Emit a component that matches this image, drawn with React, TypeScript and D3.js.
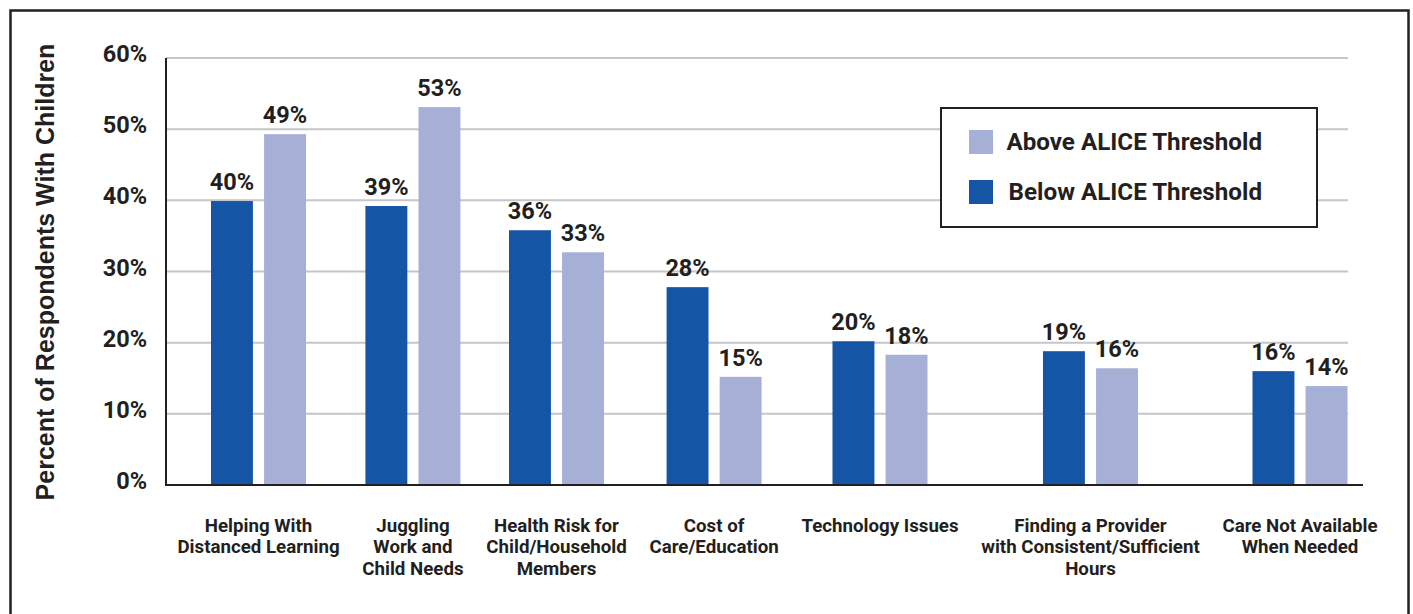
import React, { useMemo } from "react";
import * as d3 from "d3";

const categories = [
  "Helping With\nDistanced Learning",
  "Juggling\nWork and\nChild Needs",
  "Health Risk for\nChild/Household\nMembers",
  "Cost of\nCare/Education",
  "Technology Issues",
  "Finding a Provider\nwith Consistent/Sufficient\nHours",
  "Care Not Available\nWhen Needed",
];
const belowValues = [39.9, 39.2, 35.8, 27.8, 20.2, 18.8, 16.0];
const aboveValues = [49.3, 53.1, 32.7, 15.2, 18.3, 16.4, 13.9];
const seriesNames = ["Below ALICE Threshold", "Above ALICE Threshold"];
const yTicks = [0, 10, 20, 30, 40, 50, 60];
const yTitle = "Percent of Respondents With Children";

const DARK = "#1555A5";
const LIGHT = "#A6AFD6";
const INK = "#231F20";
const GRID = "#C6C6CA";
const FONT = "Roboto, 'Noto Sans', sans-serif";
const TITLE_FONT = "'Liberation Sans', Arial, sans-serif";
const CAT_FONT_SIZE = 18.7;

export default function App() {
  const W = 1413;
  const H = 614;
  const plotLeft = 166;
  const plotRight = 1348;
  const y = d3.scaleLinear().domain([0, 60]).range([485, 58]);

  // Category centres spaced by the width of their labels, so long labels do not collide.
  const centers = useMemo(() => {
    const ctx = document.createElement("canvas").getContext("2d")!;
    ctx.font = `700 ${CAT_FONT_SIZE}px Roboto`;
    const widths = categories.map((c) =>
      Math.max(95, ...c.split("\n").map((l) => ctx.measureText(l).width))
    );
    const cum: number[] = [0];
    for (let i = 1; i < widths.length; i++) {
      cum.push(cum[i - 1] + (widths[i - 1] + widths[i]) / 2 + 23);
    }
    const x = d3.scaleLinear().domain([0, cum[cum.length - 1]]).range([258.5, 1300]);
    return d3.scaleOrdinal<string, number>().domain(categories).range(cum.map((v) => x(v)));
  }, []);

  const x1 = d3
    .scaleBand<string>()
    .domain(seriesNames)
    .range([-47.5, 47.5])
    .paddingInner(0.21)
    .paddingOuter(0);
  const colors = d3.scaleOrdinal<string, string>().domain(seriesNames).range([DARK, LIGHT]);
  const seriesValues = [belowValues, aboveValues];

  return (
    <svg
      width={W}
      height={H}
      style={{ position: "absolute", left: 0, top: 0, background: "#fff" }}
      fontFamily={FONT}
      fontWeight={700}
    >
      <rect x={0} y={0} width={W} height={H} fill="#fff" />
      <rect x={10.5} y={10.5} width={1398} height={800} fill="none" stroke={INK} strokeWidth={2.5} />

      {/* gridlines */}
      {yTicks.filter((t) => t > 0).map((t) => (
        <line key={t} x1={plotLeft} x2={plotRight} y1={y(t)} y2={y(t)} stroke={GRID} strokeWidth={2} />
      ))}

      {/* tick labels */}
      {yTicks.map((t) => (
        <text key={t} x={147} y={y(t) + 4} textAnchor="end" fontSize={23.5} fill={INK}>
          {t}%
        </text>
      ))}

      {/* y title */}
      <text
        transform={`translate(45, 272) rotate(-90)`}
        textAnchor="middle"
        dominantBaseline="central"
        fontFamily={TITLE_FONT}
        fontSize={25}
        fill={INK}
      >
        {yTitle}
      </text>

      {/* bars */}
      {categories.map((c, i) => (
        <g key={c} transform={`translate(${centers(c)},0)`}>
          {seriesNames.map((s, j) => {
            const v = seriesValues[j][i];
            const bx = x1(s)!;
            return (
              <g key={s}>
                <rect x={bx} y={y(v)} width={x1.bandwidth()} height={y(0) - y(v)} fill={colors(s)} />
                <text
                  x={bx + x1.bandwidth() / 2}
                  y={y(v) - 11}
                  textAnchor="middle"
                  fontSize={23.5}
                  fill={INK}
                >
                  {Math.round(v)}%
                </text>
              </g>
            );
          })}
          <text textAnchor="middle" fontSize={CAT_FONT_SIZE} fill={INK}>
            {c.split("\n").map((line, k) => (
              <tspan key={k} x={0} y={531.5 + k * 21.5}>
                {line}
              </tspan>
            ))}
          </text>
        </g>
      ))}

      {/* axes */}
      <line x1={plotLeft} x2={plotLeft} y1={y(60)} y2={y(0) + 1} stroke={INK} strokeWidth={2} />
      <line x1={plotLeft - 1} x2={1363} y1={y(0)} y2={y(0)} stroke={INK} strokeWidth={2} />

      {/* legend */}
      <rect x={941} y={108} width={376} height={119} fill="#fff" stroke={INK} strokeWidth={2} />
      {[seriesNames[1], seriesNames[0]].map((s, k) => (
        <g key={s}>
          <rect x={969} y={130 + k * 50} width={24} height={24} fill={colors(s)} />
          <text x={1262} y={150 + k * 50} textAnchor="end" fontSize={24.2} fill={INK}>
            {s}
          </text>
        </g>
      ))}
    </svg>
  );
}
